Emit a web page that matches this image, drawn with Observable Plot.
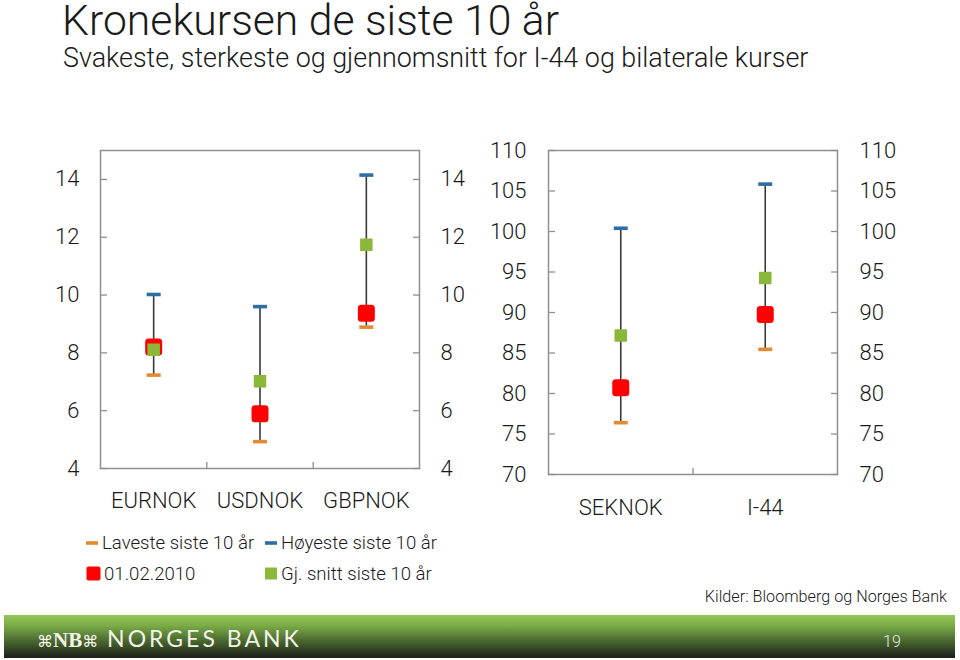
<!DOCTYPE html>
<html><head><meta charset="utf-8">
<script src="https://cdn.jsdelivr.net/npm/d3@7"></script>
<script src="https://cdn.jsdelivr.net/npm/@observablehq/plot@0.6"></script>
<style>
body{margin:0;width:960px;height:660px;position:relative;background:#fff;font-family:Roboto,"Liberation Sans",sans-serif;color:#1a1a1a;overflow:hidden}
.abs{position:absolute;white-space:nowrap}
#title{left:62px;top:1px;font-size:42.7px;line-height:38px;font-weight:300}
#subtitle{left:63px;top:43px;font-size:26.9px;line-height:30px;font-weight:300}
#left{left:0;top:130px}
#right{left:480px;top:130px}
#legend{left:86px;top:531px;display:grid;grid-template-columns:179px auto;row-gap:8px;font-size:18.6px;font-weight:300}
#legend .item{display:flex;align-items:center;height:23px}
#legend svg{margin-right:3px}
#source{right:13px;top:587px;font-size:16.2px;font-weight:300}
#footer{left:4px;top:615px;width:951px;height:43px;background:linear-gradient(#92c757 0%,#7aab47 25%,#4a6830 60%,#1c1f1a 100%)}
#logo{left:33px;top:9px;font-size:23px;color:#f3f3e8;font-family:Lato,"Open Sans",sans-serif;font-weight:400;letter-spacing:3px}
#logo .nb{font-family:"Liberation Serif",serif;font-weight:700;letter-spacing:0;font-size:21px}
#logo .k{font-family:"DejaVu Sans",sans-serif;font-size:16px;letter-spacing:0;font-weight:400}
#page{left:879px;top:17px;font-size:16px;color:#e6e6e6;font-weight:300}
</style></head>
<body>
<div id="title" class="abs">Kronekursen de siste 10 år</div>
<div id="subtitle" class="abs">Svakeste, sterkeste og gjennomsnitt for I-44 og bilaterale kurser</div>
<div id="left" class="abs"></div>
<div id="right" class="abs"></div>
<div id="legend" class="abs"></div>
<div id="source" class="abs">Kilder: Bloomberg og Norges Bank</div>
<div id="footer" class="abs"><div id="logo" class="abs"><span class="k">⌘</span><span class="nb">NB</span><span class="k">⌘</span> NORGES BANK</div><div id="page" class="abs">19</div></div>
<script>
// ---- data ----
const leftCats = ["EURNOK", "USDNOK", "GBPNOK"];
const leftLow  = [7.23, 4.93, 8.89];
const leftHigh = [10.02, 9.6, 14.15];
const leftNow  = [8.2, 5.89, 9.37];
const leftAvg  = [8.11, 7.02, 11.74];
const leftTicks = [4, 6, 8, 10, 12, 14];

const rightCats = ["SEKNOK", "I-44"];
const rightLow  = [76.4, 85.45];
const rightHigh = [100.4, 105.85];
const rightNow  = [80.7, 89.75];
const rightAvg  = [87.15, 94.25];
const rightTicks = [70, 75, 80, 85, 90, 95, 100, 105, 110];

const legendLabels = ["Laveste siste 10 år", "Høyeste siste 10 år", "01.02.2010", "Gj. snitt siste 10 år"];
const colors = {low: "#e38b32", high: "#2f6ea5", now: "#fe0000", avg: "#8cb83a"};

// ---- symbols ----
const capSymbol = {draw(ctx) { const w = 14, h = 3.6; ctx.rect(-w / 2, -h / 2, w, h); }};
function roundSquare(s, r) {
  return {draw(ctx) {
    const a = s / 2;
    ctx.moveTo(-a + r, -a);
    ctx.arcTo(a, -a, a, a, r);
    ctx.arcTo(a, a, -a, a, r);
    ctx.arcTo(-a, a, -a, -a, r);
    ctx.arcTo(-a, -a, a, -a, r);
    ctx.closePath();
  }};
}
const nowSymbol = roundSquare(17, 3.5);
const avgSymbol = roundSquare(12.5, 0.5);

function panel({cats, low, high, now, avg, yDomain, yTicks, width, height, marginLeft, marginRight, marginTop, marginBottom, fontSize, pad, catPad}) {
  const data = cats.map((c, i) => ({pos: i + 0.5, cat: c, low: low[i], high: high[i], now: now[i], avg: avg[i]}));
  const grey = "#8f8f8f";
  return Plot.plot({
    width, height, marginLeft, marginRight, marginTop, marginBottom,
    x: {domain: [0, cats.length], axis: null},
    y: {domain: yDomain, axis: null},
    style: {fontFamily: "Roboto, 'Liberation Sans', sans-serif", fontSize: fontSize + "px", fontWeight: 300, color: "#1a1a1a", background: "transparent", overflow: "visible"},
    marks: [
      Plot.axisY({ticks: yTicks, anchor: "left", tickSize: 0, tickPadding: pad, fill: "#1a1a1a", label: null}),
      Plot.axisY({ticks: yTicks, anchor: "right", tickSize: 0, tickPadding: pad, fill: "#1a1a1a", label: null}),
      Plot.axisY({ticks: yTicks, anchor: "left", tickSize: 7, dx: 7, text: null, stroke: grey, strokeWidth: 1.3, label: null}),
      Plot.axisY({ticks: yTicks, anchor: "right", tickSize: 7, dx: -7, text: null, stroke: grey, strokeWidth: 1.3, label: null}),
      Plot.axisX({ticks: d3.range(1, cats.length), anchor: "bottom", tickSize: 6, dy: -6, text: null, stroke: grey, strokeWidth: 1.3, label: null}),
      Plot.axisX({ticks: data.map(d => d.pos), anchor: "bottom", tickFormat: d => cats[Math.floor(d)], tickSize: 0, tickPadding: catPad, fill: "#1a1a1a", label: null}),
      Plot.frame({stroke: grey, strokeWidth: 1.5}),
      Plot.ruleX(data, {x: "pos", y1: "low", y2: "high", stroke: "#3a3a3a", strokeWidth: 1.6}),
      Plot.dot(data, {x: "pos", y: "low", symbol: capSymbol, r: 5, fill: colors.low}),
      Plot.dot(data, {x: "pos", y: "high", symbol: capSymbol, r: 5, fill: colors.high}),
      Plot.dot(data, {x: "pos", y: "now", symbol: nowSymbol, r: 8, fill: colors.now}),
      Plot.dot(data, {x: "pos", y: "avg", symbol: avgSymbol, r: 6, fill: colors.avg})
    ]
  });
}

document.getElementById("left").append(panel({
  cats: leftCats, low: leftLow, high: leftHigh, now: leftNow, avg: leftAvg,
  yDomain: [4, 15], yTicks: leftTicks, width: 480, height: 400,
  marginLeft: 100, marginRight: 61, marginTop: 20, marginBottom: 62, fontSize: 22, pad: 21, catPad: 24
}));
document.getElementById("right").append(panel({
  cats: rightCats, low: rightLow, high: rightHigh, now: rightNow, avg: rightAvg,
  yDomain: [70, 110], yTicks: rightTicks, width: 480, height: 400,
  marginLeft: 68, marginRight: 123, marginTop: 20, marginBottom: 56, fontSize: 22, pad: 22, catPad: 25
}));

// ---- legend ----
const legendSyms = [
  `<svg width="13" height="14"><rect x="0" y="5.2" width="12" height="3.6" fill="${colors.low}"/></svg>`,
  `<svg width="13" height="14"><rect x="0" y="5.2" width="12" height="3.6" fill="${colors.high}"/></svg>`,
  `<svg width="15" height="15"><rect x="0.5" y="0.5" width="14" height="14" rx="2" fill="${colors.now}"/></svg>`,
  `<svg width="13" height="13"><rect x="0" y="0.5" width="12" height="12" fill="${colors.avg}"/></svg>`
];
const leg = document.getElementById("legend");
legendLabels.forEach((t, i) => {
  const d = document.createElement("div");
  d.className = "item";
  d.innerHTML = legendSyms[i] + `<span>${t}</span>`;
  leg.append(d);
});
</script>
</body></html>
